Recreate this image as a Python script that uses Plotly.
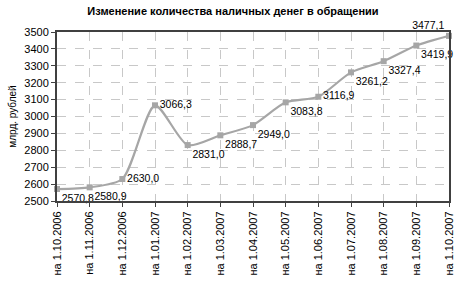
import plotly.graph_objects as go

dates = ["на 1.10.2006", "на 1.11.2006", "на 1.12.2006", "на 1.01.2007", "на 1.02.2007",
         "на 1.03.2007", "на 1.04.2007", "на 1.05.2007", "на 1.06.2007", "на 1.07.2007",
         "на 1.08.2007", "на 1.09.2007", "на 1.10.2007"]
values = [2570.8, 2580.9, 2630.0, 3066.3, 2831.0, 2888.7, 2949.0, 3083.8, 3116.9,
          3261.2, 3327.4, 3419.9, 3477.1]
label_pos = ["bottom right", "bottom right", "middle right", "middle right", "bottom right",
             "bottom right", "bottom right", "bottom right", "middle right", "bottom right",
             "bottom right", "bottom right", "top left"]

labels = [f"{v:.1f}".replace(".", ",") for v in values]
xs = list(range(len(dates)))

fig = go.Figure()
fig.add_trace(go.Scatter(
    x=xs, y=values, mode="lines+markers+text",
    line=dict(color="#a6a6a6", width=2.2, shape="spline", smoothing=0.7),
    marker=dict(symbol="square", size=6, color="#a6a6a6"),
    text=labels, textposition=label_pos,
    textfont=dict(family="Liberation Sans, Arial", size=10.5, color="#000000"),
    cliponaxis=False, hoverinfo="skip"))

fig.update_layout(
    width=466, height=287,
    margin=dict(l=55, r=11, t=32, b=74),
    paper_bgcolor="white", plot_bgcolor="white",
    showlegend=False,
    title=dict(text="<b>Изменение количества наличных денег в обращении</b>",
               x=0.5, xanchor="center", y=0.96, yanchor="middle",
               font=dict(family="Liberation Sans, Arial", size=11, color="#000000")),
    font=dict(family="Liberation Sans, Arial", size=11, color="#000000"),
)
fig.update_xaxes(
    range=[0, 12], tickmode="array", tickvals=xs, ticktext=dates, tickangle=-90,
    showgrid=True, gridcolor="#c8c8c8", griddash="dash", gridwidth=1,
    showline=True, linecolor="#404040", linewidth=2, mirror=True,
    ticks="outside", ticklen=4, tickcolor="#404040", zeroline=False,
    tickfont=dict(size=11))
fig.update_yaxes(
    range=[2500, 3500], dtick=100,
    showgrid=True, gridcolor="#c8c8c8", griddash="dash", gridwidth=1,
    showline=True, linecolor="#404040", linewidth=2, mirror=True,
    ticks="outside", ticklen=4, tickcolor="#404040", zeroline=False,
    title=dict(text="млрд. рублей", font=dict(size=10), standoff=6),
    tickfont=dict(size=11))

fig.write_html("out.html")
